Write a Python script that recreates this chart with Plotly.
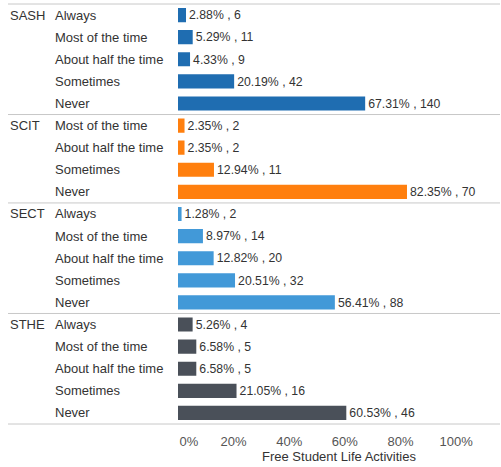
import plotly.graph_objects as go
from plotly.subplots import make_subplots

# data
schools = ["SASH", "SCIT", "SECT", "STHE"]
colors = ["#1f6db1", "#ff7f0e", "#4299d8", "#4a5059"]

sash_cats = ["Always", "Most of the time", "About half the time", "Sometimes", "Never"]
sash_pct = [2.88, 5.29, 4.33, 20.19, 67.31]
sash_n = [6, 11, 9, 42, 140]

scit_cats = ["Most of the time", "About half the time", "Sometimes", "Never"]
scit_pct = [2.35, 2.35, 12.94, 82.35]
scit_n = [2, 2, 11, 70]

sect_cats = ["Always", "Most of the time", "About half the time", "Sometimes", "Never"]
sect_pct = [1.28, 8.97, 12.82, 20.51, 56.41]
sect_n = [2, 14, 20, 32, 88]

sthe_cats = ["Always", "Most of the time", "About half the time", "Sometimes", "Never"]
sthe_pct = [5.26, 6.58, 6.58, 21.05, 60.53]
sthe_n = [4, 5, 5, 16, 46]

tick_vals = [0, 20, 40, 60, 80, 100]
tick_text = ["\u00a0" * 6 + "0%", "20%", "40%", "60%", "80%", "100%"]

groups = [
    (sash_cats, sash_pct, sash_n),
    (scit_cats, scit_pct, scit_n),
    (sect_cats, sect_pct, sect_n),
    (sthe_cats, sthe_pct, sthe_n),
]

W, H = 501, 467
ML, MR, MT, MB = 178, 1, 4, 43
plot_w = W - ML - MR

fig = make_subplots(rows=4, cols=1, shared_xaxes=True, vertical_spacing=0,
                    row_heights=[len(g[0]) for g in groups])

FONT = "Liberation Sans, Arial, sans-serif"
TXT = "#333333"
FS = 13

for i, (cats, pct, n) in enumerate(groups):
    r = i + 1
    fig.add_trace(go.Bar(
        y=cats, x=pct, orientation="h", width=0.64,
        marker=dict(color=colors[i], line=dict(width=0)),
        customdata=n,
        texttemplate="%{x:.2f}% , %{customdata}",
        textposition="outside", cliponaxis=False,
        textfont=dict(size=FS, color=TXT, family=FONT),
        showlegend=False, hoverinfo="skip",
    ), row=r, col=1)
    fig.update_yaxes(categoryorder="array", categoryarray=cats, autorange="reversed",
                     showticklabels=False, showgrid=False, zeroline=False,
                     row=r, col=1)
    yref = "y" if r == 1 else "y%d" % r
    # category labels, left aligned
    for c in cats:
        fig.add_annotation(x=(53 - ML) / plot_w, xref="paper", y=c, yref=yref,
                           text=c, showarrow=False, xanchor="left",
                           font=dict(size=FS, color=TXT, family=FONT))
    fig.add_annotation(x=(8 - ML) / plot_w, xref="paper", y=cats[0], yref=yref,
                       text=schools[i], showarrow=False, xanchor="left",
                       font=dict(size=FS, color=TXT, family=FONT))

fig.update_xaxes(range=[0, 115.8], showgrid=False, zeroline=False,
                 tickvals=tick_vals, ticktext=tick_text, ticks="",
                 ticklabelstandoff=8,
                 tickfont=dict(size=FS, color="#555555", family=FONT))
fig.update_xaxes(title=dict(text="Free Student Life Activities", standoff=2,
                            font=dict(size=FS, color=TXT, family=FONT)),
                 row=4, col=1)

# separator lines between groups
total = sum(len(g[0]) for g in groups)
edges = [1.0]
acc = 0
for g in groups:
    acc += len(g[0])
    edges.append(1 - acc / total)
left0 = (8 - ML) / plot_w
for yy in edges:
    fig.add_shape(type="line", xref="paper", yref="paper", x0=left0, x1=1,
                  y0=yy, y1=yy, line=dict(color="#c8c8c8", width=1))

fig.update_layout(
    width=W, height=H,
    margin=dict(l=ML, r=MR, t=MT, b=MB),
    paper_bgcolor="white", plot_bgcolor="white",
    font=dict(family=FONT, size=FS, color=TXT),
)

fig.write_html("out.html", config={"displayModeBar": False},
               post_script="document.body.style.margin='0';")
